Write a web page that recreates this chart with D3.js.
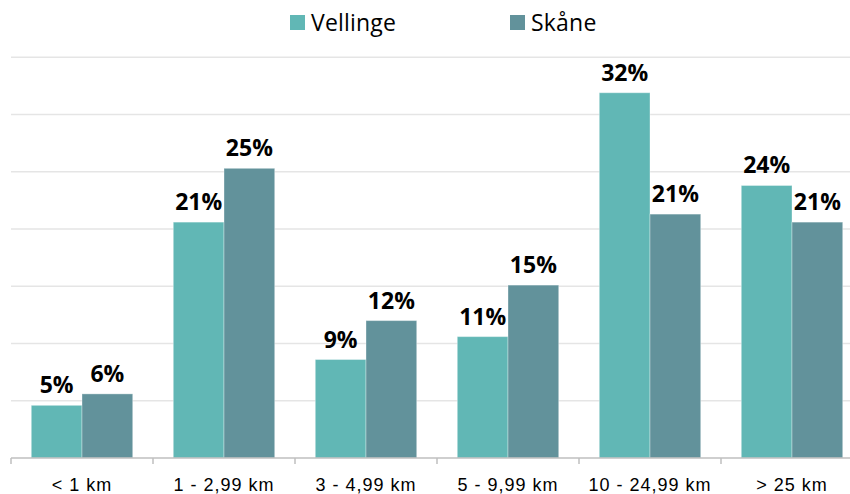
<!DOCTYPE html>
<html>
<head>
<meta charset="utf-8">
<script src="https://cdn.jsdelivr.net/npm/d3@7"></script>
<style>
  body { margin: 0; background: #fff; }
  svg { display: block; }
  .grid line { stroke: #e5e5e5; stroke-width: 1.5; }
  .label { font-family: "Open Sans", sans-serif; font-weight: bold; font-size: 23px; fill: #000; }
  .cat { font-family: "Liberation Sans", Arial, sans-serif; font-size: 18px; letter-spacing: 1px; fill: #000; }
  .legend text { font-family: "Open Sans", sans-serif; font-size: 23px; letter-spacing: 0.2px; fill: #000; }
</style>
</head>
<body>
<div id="chart"></div>
<script>
var width = 850;
var height = 494;

var categories = ["< 1 km", "1 - 2,99 km", "3 - 4,99 km", "5 - 9,99 km", "10 - 24,99 km", "> 25 km"];
var seriesNames = ["Vellinge", "Skåne"];
var vellinge = [0.046, 0.206, 0.086, 0.106, 0.319, 0.238];
var skane = [0.056, 0.253, 0.120, 0.151, 0.213, 0.206];
var gridTicks = [0.05, 0.10, 0.15, 0.20, 0.25, 0.30, 0.35];
var colors = ["#61b7b5", "#62929b"];

var values = [vellinge, skane];

var svg = d3.select("#chart").append("svg")
  .attr("width", width)
  .attr("height", height);

var baseY = 458;

var x0 = d3.scaleBand()
  .domain(categories)
  .range([11, 863]);

var x1 = d3.scaleBand()
  .domain(seriesNames)
  .range([0, x0.bandwidth()])
  .paddingOuter(0.4);

var y = d3.scaleLinear()
  .domain([0, 0.40])
  .range([baseY, 0]);

var fmt = d3.format(".0%");

// gridlines
svg.append("g")
  .attr("class", "grid")
  .selectAll("line")
  .data(gridTicks)
  .enter().append("line")
  .attr("x1", 11)
  .attr("x2", width)
  .attr("y1", function(d) { return y(d); })
  .attr("y2", function(d) { return y(d); });

// bars
var groups = svg.selectAll(".group")
  .data(categories)
  .enter().append("g")
  .attr("class", "group")
  .attr("transform", function(d) { return "translate(" + x0(d) + ",0)"; });

groups.selectAll("rect")
  .data(function(d, i) {
    return seriesNames.map(function(s, j) { return { series: s, value: values[j][i], j: j }; });
  })
  .enter().append("rect")
  .attr("x", function(d) { return x1(d.series); })
  .attr("y", function(d) { return y(d.value); })
  .attr("width", x1.bandwidth())
  .attr("height", function(d) { return baseY - y(d.value); })
  .attr("fill", function(d) { return colors[d.j]; })
  .attr("stroke", "rgba(255,255,255,0.35)")
  .attr("stroke-width", 1);

groups.selectAll("text")
  .data(function(d, i) {
    return seriesNames.map(function(s, j) { return { series: s, value: values[j][i] }; });
  })
  .enter().append("text")
  .attr("class", "label")
  .attr("text-anchor", "middle")
  .attr("x", function(d) { return x1(d.series) + x1.bandwidth() / 2; })
  .attr("y", function(d) { return y(d.value) - 12; })
  .text(function(d) { return fmt(d.value); });

// x axis
var axis = svg.append("g");
axis.append("line")
  .attr("x1", 11).attr("x2", width)
  .attr("y1", baseY).attr("y2", baseY)
  .attr("stroke", "#bfbfbf").attr("stroke-width", 1.5);

var tickXs = categories.map(function(c) { return x0(c); });
axis.selectAll(".tick")
  .data(tickXs)
  .enter().append("line")
  .attr("x1", function(d) { return d; })
  .attr("x2", function(d) { return d; })
  .attr("y1", baseY).attr("y2", baseY + 6)
  .attr("stroke", "#bfbfbf").attr("stroke-width", 1.5);

axis.selectAll(".cat")
  .data(categories)
  .enter().append("text")
  .attr("class", "cat")
  .attr("text-anchor", "middle")
  .attr("x", function(d) { return x0(d) + x0.bandwidth() / 2; })
  .attr("y", 491)
  .text(function(d) { return d; });

// legend
var legendX = [290, 510];
var legend = svg.append("g").attr("class", "legend");
var items = legend.selectAll("g")
  .data(seriesNames)
  .enter().append("g")
  .attr("transform", function(d, i) { return "translate(" + legendX[i] + ",15)"; });

items.append("rect")
  .attr("width", 15)
  .attr("height", 15)
  .attr("fill", function(d, i) { return colors[i]; });

items.append("text")
  .attr("x", 21)
  .attr("y", 16)
  .text(function(d) { return d; });
</script>
</body>
</html>
